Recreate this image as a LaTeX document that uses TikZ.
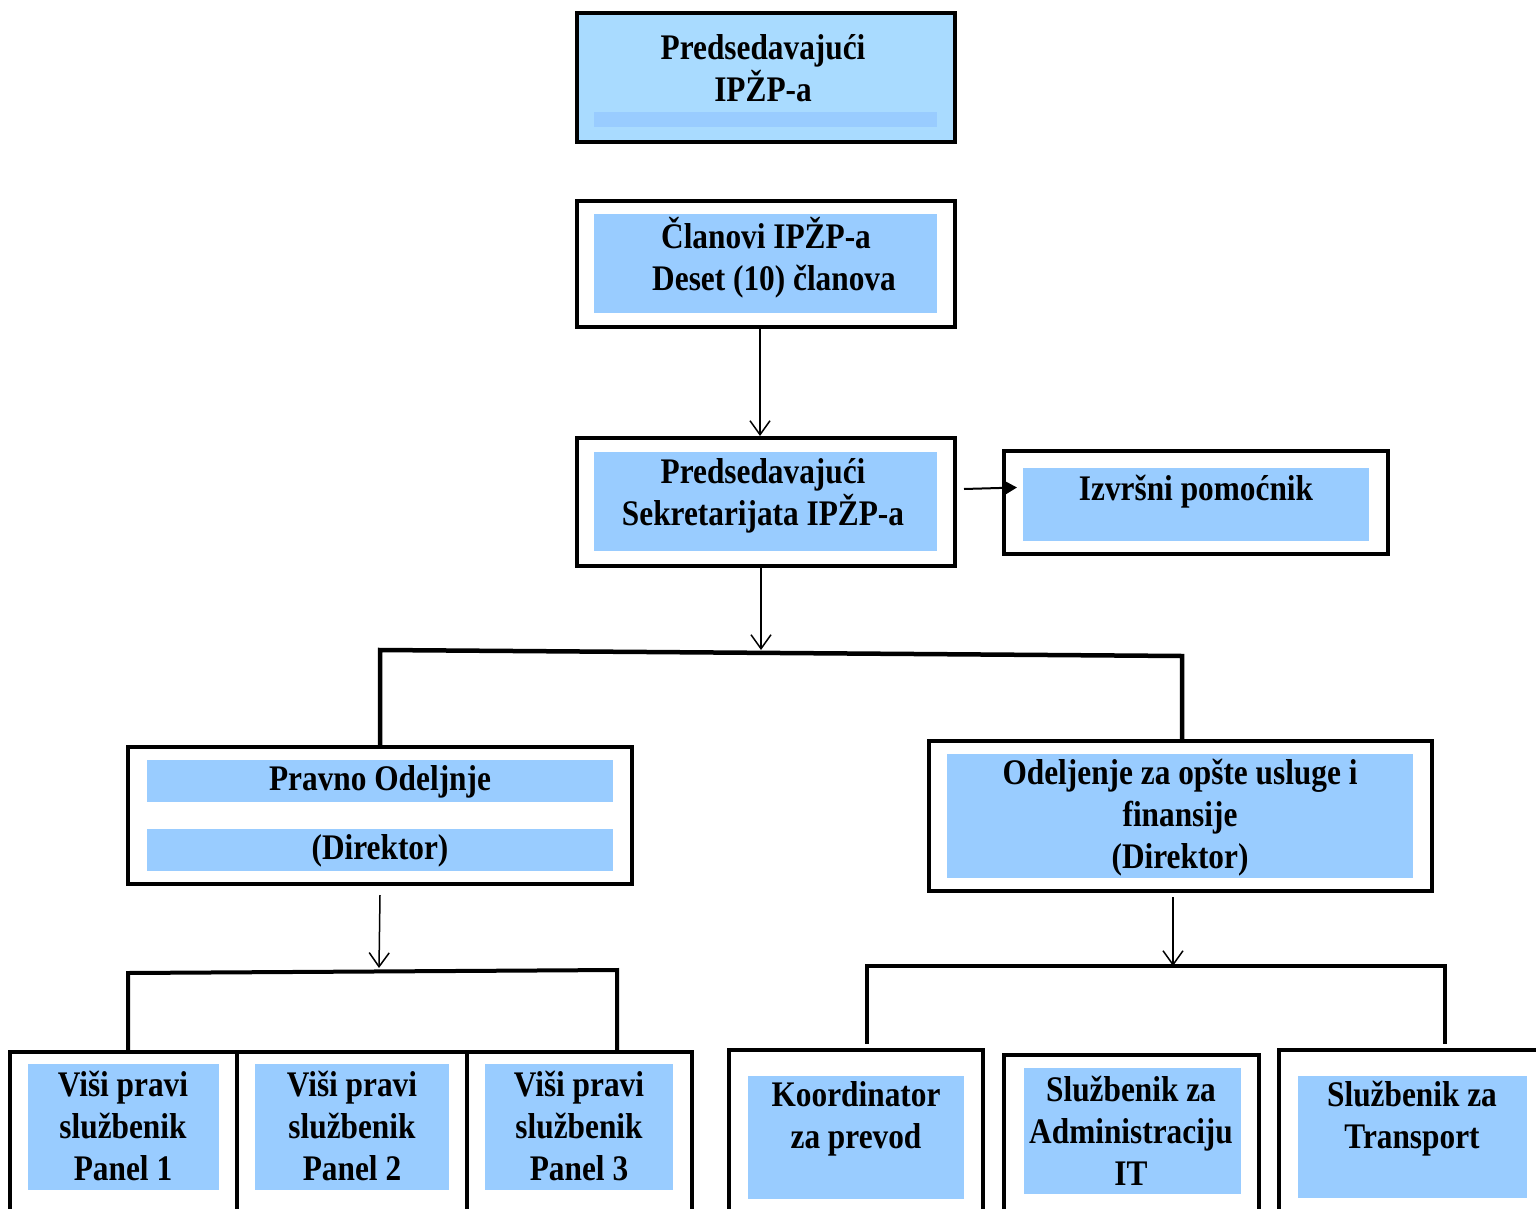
\documentclass[tikz,border=0pt]{standalone}
\usepackage{fontspec}
\setmainfont{Liberation Serif}[FakeStretch=0.87]
\usetikzlibrary{arrows.meta}
\definecolor{bx}{HTML}{99CCFF}
\definecolor{bxl}{HTML}{A9DBFF}
\begin{document}
\begin{tikzpicture}[x=1pt,y=-1pt,
  outer/.style={draw=black, line width=4pt, fill=white, inner sep=0pt},
  blue/.style={fill=bx, draw=none, inner sep=0pt},
  txt/.style={font=\fontsize{36}{42}\selectfont\bfseries, align=center, inner sep=0pt},
  arr/.style={line width=1.5pt, -{Straight Barb[length=14pt,width=20pt,line width=1.5pt]}},
  brk/.style={line width=4.5pt, line cap=rect},
  sarr/.style={line width=2pt, -{Triangle[length=11pt,width=12pt]}}]
\useasboundingbox (0,0) rectangle (1536,1209);
\clip (0,0) rectangle (1536,1209);
\fill[white] (0,0) rectangle (1536,1209);

% Box 1
\node[outer, fill=bxl, minimum width=378pt, minimum height=129pt] (b1) at (766,77.5) {};
\node[blue, minimum width=343pt, minimum height=15pt] (b1s) at (765.5,119.5) {};
\node[txt] (b1t) at (763,68) {Predsedavajući\\IPŽP-a};

% Box 2
\node[outer, minimum width=378pt, minimum height=126pt] (b2) at (766,264) {};
\node[blue, minimum width=343pt, minimum height=99pt] (b2i) at (765.5,263.5) {};
\node[txt] (b2t) at (766,258) {Članovi IPŽP-a\\\hspace*{16pt}Deset (10) članova};

% Box 3
\node[outer, minimum width=378pt, minimum height=128pt] (b3) at (766,502) {};
\node[blue, minimum width=343pt, minimum height=99pt] (b3i) at (765.5,501.5) {};
\node[txt] (b3t) at (763,496) {Predsedavajući\\Sekretarijata IPŽP-a};

% Box 4
\node[outer, minimum width=384pt, minimum height=103pt] (b4) at (1196,502.5) {};
\node[blue, minimum width=346pt, minimum height=73pt] (b4i) at (1196,504.5) {};
\node[txt] (b4t) at (1196,492) {Izvršni pomoćnik};

% Box 5
\node[outer, minimum width=504pt, minimum height=137pt] (b5) at (380,815.5) {};
\node[blue, minimum width=466pt, minimum height=42pt] (b5a) at (380,781) {};
\node[blue, minimum width=466pt, minimum height=42pt] (b5b) at (380,850) {};
\node[txt] (b5t1) at (380,782) {Pravno Odeljnje};
\node[txt] (b5t2) at (380,851) {(Direktor)};

% Box 6
\node[outer, minimum width=503pt, minimum height=150pt] (b6) at (1180.5,816) {};
\node[blue, minimum width=466pt, minimum height=124pt] (b6i) at (1180,816) {};
\node[txt] (b6t) at (1180,818) {Odeljenje za opšte usluge i\\finansije\\(Direktor)};

% Bottom left boxes
\node[outer, minimum width=227pt, minimum height=178pt] (l1) at (123.5,1141) {};
\node[outer, minimum width=230pt, minimum height=178pt] (l2) at (352,1141) {};
\node[outer, minimum width=225pt, minimum height=178pt] (l3) at (579.5,1141) {};
\node[blue, minimum width=191pt, minimum height=126pt] (l1i) at (123.5,1127) {};
\node[blue, minimum width=194pt, minimum height=126pt] (l2i) at (352,1127) {};
\node[blue, minimum width=188pt, minimum height=126pt] (l3i) at (579,1127) {};
\node[txt] (l1t) at (123,1126) {Viši pravi\\službenik\\Panel 1};
\node[txt] (l2t) at (352,1126) {Viši pravi\\službenik\\Panel 2};
\node[txt] (l3t) at (579,1126) {Viši pravi\\službenik\\Panel 3};

% Bottom right boxes
\node[outer, minimum width=254pt, minimum height=180pt] (r1) at (856,1140) {};
\node[outer, minimum width=255pt, minimum height=175pt] (r2) at (1131.5,1142.5) {};
\node[outer, minimum width=266pt, minimum height=180pt] (r3) at (1412,1140) {};
\node[blue, minimum width=216pt, minimum height=123pt] (r1i) at (856,1137.5) {};
\node[blue, minimum width=217pt, minimum height=126pt] (r2i) at (1132.5,1131) {};
\node[blue, minimum width=229pt, minimum height=122pt] (r3i) at (1412.5,1137) {};
\node[txt] (r1t) at (856,1119) {Koordinator\\za prevod};
\node[txt] (r2t) at (1131,1131) {Službenik za\\Administraciju\\IT};
\node[txt] (r3t) at (1412,1119) {Službenik za\\Transport};

% junction coordinates
\coordinate (j1) at (761,650);
\coordinate (jl) at (380,650);
\coordinate (jr) at (1182,656);
\coordinate (j2) at (379,968);
\coordinate (bl1) at (128,973);
\coordinate (bl2) at (617,970);
\coordinate (j3) at (1173,966);
\coordinate (br1) at (867,966);
\coordinate (br2) at (1445,966);

% connectors
\draw[arr] ([xshift=-6pt]b2.south) -- ([xshift=-6pt]b3.north);
\draw[arr] ([xshift=-5pt]b3.south) -- (j1);
\draw[sarr] ([xshift=7pt,yshift=13pt]b3.east) -- ([xshift=15pt,yshift=15pt]b4.west);
\draw[brk] (b5.north) -- (jl) -- (jr) -- (jr |- b6.north);
\draw[arr] ([yshift=-9pt]b5.south) -- (j2);
\draw[brk, line width=4pt] (bl1 |- l1.north) -- (bl1) -- (bl2) -- (bl2 |- l3.north);
\draw[arr] ([xshift=-7.5pt,yshift=-4pt]b6.south) -- (j3);
\draw[brk, line width=4pt] ([yshift=6pt]br1 |- r1.north) -- (br1) -- (br2) -- ([yshift=6pt]br2 |- r3.north);
\end{tikzpicture}
\end{document}
